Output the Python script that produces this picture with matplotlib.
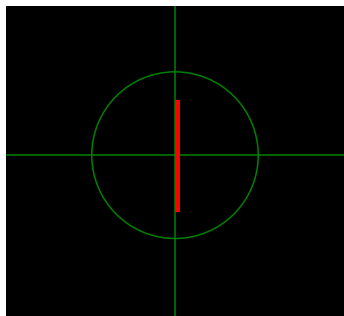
import matplotlib
matplotlib.use("Agg")
import matplotlib.pyplot as plt
from matplotlib.patches import Circle

# circle radius is the unit, everything else relative to it
circle_r = 1.0
red_x = [0.02, 0.02]
red_y = [0.66, -0.67]

xlim = (-2.03, 2.03)
ylim = (-1.93, 1.79)

fig = plt.figure(figsize=(3.44, 3.16), dpi=100)
fig.patch.set_facecolor("white")
ax = fig.add_axes([6 / 344, 0, 338 / 344, 310 / 316])
ax.set_facecolor("black")

ax.axhline(0, color="#008000", lw=1.1, zorder=2)
ax.axvline(0, color="#008000", lw=1.1, zorder=2)
ax.add_patch(Circle((0, 0), circle_r, fill=False, edgecolor="#008000", lw=1.1, zorder=2))
ax.plot(red_x, red_y, color="red", lw=2.2, solid_capstyle="butt", zorder=5,
        antialiased=False)

ax.set_xlim(*xlim)
ax.set_ylim(*ylim)
ax.set_xticks([])
ax.set_yticks([])
for s in ax.spines.values():
    s.set_visible(False)

fig.savefig("out.png", dpi=100)
